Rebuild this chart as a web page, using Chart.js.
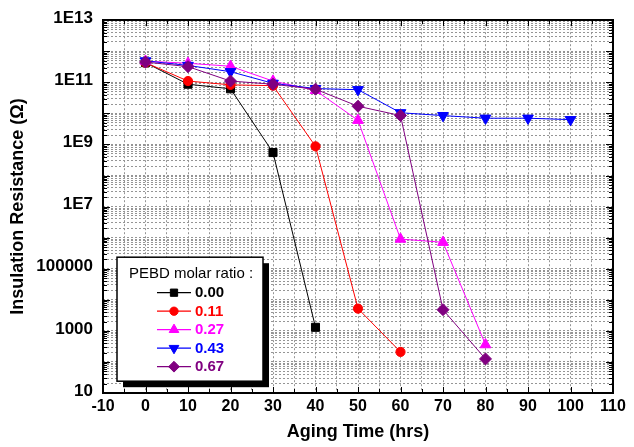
<!DOCTYPE html>
<html><head><meta charset="utf-8">
<script src="https://cdn.jsdelivr.net/npm/chart.js@4.4.1/dist/chart.umd.min.js"></script>
<style>html,body{margin:0;padding:0;background:#fff}canvas{display:block}</style>
</head><body>
<canvas id="c" width="634" height="447"></canvas>
<script>
// ---- data ----
const hours = [0, 10, 20, 30, 40, 50, 60, 70, 80, 90, 100];
const seriesLabels = ['0.00', '0.11', '0.27', '0.43', '0.67'];
const r000 = [4.3e11, 8.7e10, 6.2e10, 5.5e8, 1.3e3];
const r011 = [4.3e11, 1.1e11, 8.3e10, 7.8e10, 8.7e8, 5.2e3, 2.1e2];
const r027 = [4.8e11, 4.1e11, 3.3e11, 1.1e11, 5.5e10, 6.0e9, 9.0e5, 7.1e5, 3.6e2];
const r043 = [4.9e11, 3.5e11, 2.2e11, 9.3e10, 6.3e10, 5.8e10, 1.05e10, 8.5e9, 7.0e9, 7.0e9, 6.3e9];
const r067 = [4.5e11, 3.2e11, 1.1e11, 8.7e10, 6.0e10, 1.7e10, 8.5e9, 4.8e3, 1.25e2];
const yTickValues = [1e1, 1e3, 1e5, 1e7, 1e9, 1e11, 1e13];
const yTickLabels = ['10', '1000', '100000', '1E7', '1E9', '1E11', '1E13'];
const xTickLabels = [-10, 0, 10, 20, 30, 40, 50, 60, 70, 80, 90, 100, 110];
const legendTitle = 'PEBD molar ratio :';
const xTitle = 'Aging Time (hrs)';
const yTitle = 'Insulation Resistance (\u03A9)';

// ---- styles ----
const FONT = '"Liberation Sans", Arial, Helvetica, sans-serif';
const colors = ['#000000', '#ff0000', '#ff00ff', '#0000ff', '#800080'];
const markers = [
  {pointStyle: 'rect', radius: 5.7, rotation: 0},
  {pointStyle: 'circle', radius: 4.6, rotation: 0},
  {pointStyle: 'triangle', radius: 6.2, rotation: 0},
  {pointStyle: 'triangle', radius: 6.2, rotation: 180},
  {pointStyle: 'rectRot', radius: 6, rotation: 0}
];
const drawOrder = [4, 3, 2, 1, 0];
const allSeries = [r000, r011, r027, r043, r067];

const datasets = allSeries.map((vals, i) => ({
  label: seriesLabels[i],
  data: vals.map((v, k) => ({x: hours[k], y: v})),
  borderColor: colors[i],
  backgroundColor: colors[i],
  borderWidth: 1,
  pointStyle: markers[i].pointStyle,
  pointRadius: markers[i].radius,
  pointRotation: markers[i].rotation,
  pointBorderWidth: 1,
  pointHoverRadius: markers[i].radius,
  order: drawOrder[i],
  tension: 0,
  fill: false
}));

const framePlugin = {
  id: 'frameTicks',
  afterDatasetsDraw(chart) {
    const {ctx, chartArea: a, scales} = chart;
    const xs = scales.x, ys = scales.y;
    ctx.save();
    ctx.strokeStyle = '#000';
    ctx.lineWidth = 1;
    // x ticks (inward, top and bottom)
    xs.ticks.forEach(t => {
      const px = Math.round(xs.getPixelForValue(t.value)) + 0.5;
      const len = (t.value % 10 === 0) ? 6 : 4;
      ctx.beginPath();
      ctx.moveTo(px, a.bottom); ctx.lineTo(px, a.bottom - len);
      ctx.moveTo(px, a.top); ctx.lineTo(px, a.top + len);
      ctx.stroke();
    });
    // y ticks (inward, left and right)
    ys.ticks.forEach(t => {
      const py = Math.round(ys.getPixelForValue(t.value)) + 0.5;
      const e = Math.log10(t.value);
      const len = Math.abs(e - Math.round(e)) < 1e-9 ? 7 : 4;
      ctx.beginPath();
      ctx.moveTo(a.left, py); ctx.lineTo(a.left + len, py);
      ctx.moveTo(a.right, py); ctx.lineTo(a.right - len, py);
      ctx.stroke();
    });
    // frame
    ctx.lineWidth = 2;
    ctx.strokeRect(Math.round(a.left), Math.round(a.top), Math.round(a.right - a.left), Math.round(a.bottom - a.top));
    ctx.restore();

    // legend box
    const bx = a.left + 14, by = a.top + 237, bw = 146, bh = 124;
    ctx.save();
    ctx.fillStyle = '#000';
    ctx.fillRect(bx + 6, by + 6, bw, bh);
    ctx.fillStyle = '#fff';
    ctx.fillRect(bx, by, bw, bh);
    ctx.strokeStyle = '#000';
    ctx.lineWidth = 1.5;
    ctx.strokeRect(bx, by, bw, bh);
    ctx.fillStyle = '#000';
    ctx.font = '15px ' + FONT;
    ctx.textAlign = 'center';
    ctx.textBaseline = 'middle';
    ctx.fillText(legendTitle, bx + bw / 2 + 1, by + 17);
    const rowH = 18.5;
    chart.data.datasets.forEach((ds, i) => {
      const y = by + 35.5 + i * rowH;
      const x0 = bx + 40, x1 = bx + 74, xm = bx + 57;
      ctx.strokeStyle = ds.borderColor;
      ctx.lineWidth = 1.3;
      ctx.beginPath(); ctx.moveTo(x0, y); ctx.lineTo(x1, y); ctx.stroke();
      ctx.fillStyle = ds.backgroundColor;
      ctx.lineWidth = 1;
      Chart.helpers.drawPoint(ctx, {pointStyle: ds.pointStyle, radius: ds.pointRadius * 0.9, rotation: ds.pointRotation, borderWidth: 1}, xm, y);
      ctx.fillStyle = ds.borderColor;
      ctx.font = 'bold 15px ' + FONT;
      ctx.textAlign = 'left';
      ctx.fillText(ds.label, bx + 78, y + 0.5);
    });
    ctx.restore();
  }
};

new Chart(document.getElementById('c'), {
  type: 'line',
  data: {datasets},
  options: {
    responsive: false,
    animation: false,
    devicePixelRatio: 1,
    layout: {padding: {left: 0, top: 16, right: 21, bottom: 0}},
    plugins: {legend: {display: false}, tooltip: {enabled: false}},
    scales: {
      x: {
        type: 'linear',
        min: -10, max: 110,
        afterBuildTicks(scale) {
          const t = [];
          for (let v = xTickLabels[0]; v <= xTickLabels[xTickLabels.length - 1]; v += 5) t.push({value: v});
          scale.ticks = t;
        },
        afterFit(scale) { scale.height = 54; },
        ticks: {
          autoSkip: false, maxRotation: 0, padding: 4, color: '#000',
          font: {family: FONT, size: 16, weight: 'bold'},
          callback: (v) => xTickLabels.includes(v) ? String(v) : ''
        },
        grid: {color: '#959595', lineWidth: 1, drawTicks: false},
        border: {display: false, dash: [2, 2]},
        title: {display: true, text: xTitle, color: '#000', padding: {top: 0, bottom: 4},
          font: {family: FONT, size: 18, weight: 'bold'}}
      },
      y: {
        type: 'logarithmic',
        min: 10, max: 1e13,
        afterBuildTicks(scale) {
          const t = [];
          for (let e = 1; e < 13; e++) for (let m = 1; m <= 9; m++) t.push({value: m * Math.pow(10, e)});
          t.push({value: 1e13});
          scale.ticks = t;
        },
        afterFit(scale) { scale.width = 103; },
        ticks: {
          autoSkip: false, padding: 10, color: '#000', labelOffset: -2,
          font: {family: FONT, size: 17, weight: 'bold'},
          callback: (v) => {
            const k = yTickValues.findIndex(tv => Math.abs(tv - v) / tv < 1e-6);
            return k >= 0 ? yTickLabels[k] : '';
          }
        },
        grid: {color: '#959595', lineWidth: 1, drawTicks: false},
        border: {display: false, dash: [2, 2]},
        title: {display: true, text: yTitle, color: '#000', padding: {top: 7, bottom: 4},
          font: {family: FONT, size: 18, weight: 'bold'}}
      }
    }
  },
  plugins: [framePlugin]
});
</script>
</body></html>
